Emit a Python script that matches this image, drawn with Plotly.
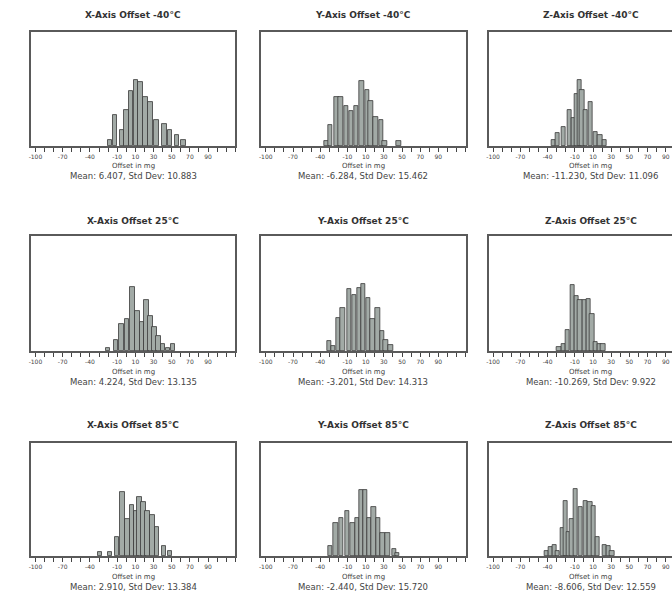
import plotly.graph_objects as go

# ---------------- data ----------------
titles = [
    "X-Axis Offset -40°C", "Y-Axis Offset -40°C", "Z-Axis Offset -40°C",
    "X-Axis Offset 25°C", "Y-Axis Offset 25°C", "Z-Axis Offset 25°C",
    "X-Axis Offset 85°C", "Y-Axis Offset 85°C", "Z-Axis Offset 85°C",
]
stats = [
    "Mean: 6.407, Std Dev: 10.883", "Mean: -6.284, Std Dev: 15.462", "Mean: -11.230, Std Dev: 11.096",
    "Mean: 4.224, Std Dev: 13.135", "Mean: -3.201, Std Dev: 14.313", "Mean: -10.269, Std Dev: 9.922",
    "Mean: 2.910, Std Dev: 13.384", "Mean: -2.440, Std Dev: 15.720", "Mean: -8.606, Std Dev: 12.559",
]
x_label = "Offset in mg"
tick_values = list(range(-100, 121, 10))
tick_labels = {-100: "-100", -70: "-70", -40: "-40", -10: "-10", 10: "10",
               30: "30", 50: "50", 70: "70", 90: "90"}

x_m40_bins = [-18, -12.8, -5, 0, 5.1, 10.6, 15.7, 20.9, 26.7, 33, 42, 48, 56, 63]
x_m40_cnt = [1.0, 5.4, 2.8, 6.3, 9.6, 11.5, 11.2, 8.6, 7.7, 4.6, 3.8, 2.8, 1.9, 1.1]
y_m40_bins = [-33, -29, -22, -17.5, -11.3, -5.8, -0.4, 5.5, 11.4, 15.7, 20.9, 27, 31, 46.5]
y_m40_cnt = [0.9, 3.6, 8.6, 8.6, 7.0, 6.1, 7.0, 11.4, 9.8, 7.9, 5.1, 4.6, 0.9, 0.9]
z_m40_bins = [-33.6, -29, -22.3, -16, -11.3, -7.7, -5.1, -2.2, 1.8, 7.3, 12.8, 17.6, 23]
z_m40_cnt = [1.1, 2.2, 3.3, 6.3, 4.9, 9.1, 11.5, 9.8, 6.3, 7.7, 2.5, 1.9, 1.1]

x_25_bins = [-20, -11.7, -5.5, 0.8, 6.6, 12.1, 17.2, 22, 26.4, 30.8, 35.5, 40.2, 46, 51.6]
x_25_cnt = [0.6, 1.9, 4.7, 5.6, 11.2, 7.0, 5.0, 8.8, 6.1, 4.1, 2.6, 1.2, 0.6, 1.2]
y_25_bins = [-30, -26, -20.5, -15.4, -8.4, -2.6, 3, 7.5, 12.5, 17.9, 23.4, 28.2, 32.2, 37.7]
y_25_cnt = [1.8, 0.8, 5.8, 7.5, 10.7, 9.8, 11.0, 11.6, 9.2, 5.6, 7.4, 3.4, 1.9, 1.1]
z_25_bins = [-27.4, -22.7, -18, -12.8, -8.4, -4.4, 0.4, 5.1, 8.8, 12.8, 17.2, 20.9]
z_25_cnt = [0.7, 1.3, 3.6, 11.4, 9.5, 8.9, 8.9, 9.0, 6.5, 1.6, 1.3, 1.2]

x_85_bins = [-29, -18.3, -10.6, -4.4, 1.1, 6.2, 11, 14.6, 18.7, 23.4, 28.6, 34, 41.3, 47.9]
x_85_cnt = [0.7, 0.7, 3.3, 11.4, 6.6, 9.1, 8.0, 10.4, 9.6, 8.0, 7.3, 5.1, 1.8, 0.9]
y_85_bins = [-29.3, -23, -17.2, -10.3, -4.4, 0.4, 5, 9.5, 14, 19, 23.8, 28.9, 34.4, 41.3, 44.6]
y_85_cnt = [1.8, 5.8, 6.8, 7.9, 5.8, 6.8, 11.7, 11.7, 6.8, 8.6, 6.7, 4.0, 4.0, 1.2, 0.6]
z_85_bins = [-41, -36.6, -32.6, -28.9, -23, -20.1, -16.9, -13.2, -9.2, -3.7, 1.8, 6.6, 10.6, 15, 22.7, 27, 30.8]
z_85_cnt = [0.8, 1.6, 2.0, 0.8, 4.9, 9.7, 4.2, 6.6, 11.9, 8.7, 9.7, 9.5, 8.8, 3.3, 2.0, 1.8, 0.8]

panels = [
    (x_m40_bins, x_m40_cnt), (y_m40_bins, y_m40_cnt), (z_m40_bins, z_m40_cnt),
    (x_25_bins, x_25_cnt), (y_25_bins, y_25_cnt), (z_25_bins, z_25_cnt),
    (x_85_bins, x_85_cnt), (y_85_bins, y_85_cnt), (z_85_bins, z_85_cnt),
]

# ---------------- layout ----------------
W, H = 672, 598
col_px = [(29, 234), (260, 465), (488, 672)]
row_px = [(32, 146), (236, 351), (443, 556)]
title_y = [15, 221, 425]
xlab_y = [166, 372, 577]
stat_y = [176, 382, 587]
px_per_unit = 205 / 225.0
x0 = -105
FONT = "DejaVu Sans"

fig = go.Figure()
annotations = []
layout_axes = {}

for i, (bins, cnt) in enumerate(panels):
    r, c = divmod(i, 3)
    idx = i + 1
    xa = "x" if idx == 1 else f"x{idx}"
    ya = "y" if idx == 1 else f"y{idx}"
    fig.add_trace(go.Bar(
        x=bins, y=cnt, width=4.8, xaxis=xa, yaxis=ya,
        marker=dict(color="#a2aaa6", line=dict(color="#3a3a3a", width=0.8)),
        showlegend=False, hoverinfo="skip",
    ))
    l, rr = col_px[c]
    t, b = row_px[r]
    xmax = x0 + (rr - l) / px_per_unit
    xkey = "xaxis" if idx == 1 else f"xaxis{idx}"
    ykey = "yaxis" if idx == 1 else f"yaxis{idx}"
    layout_axes[xkey] = dict(
        domain=[l / W, rr / W], range=[x0, xmax], anchor=ya,
        tickmode="array", tickvals=tick_values,
        ticktext=[tick_labels.get(v, "") for v in tick_values],
        ticks="outside", ticklen=4, tickwidth=1, tickcolor="#444",
        tickfont=dict(family=FONT, size=6, color="#444"),
        showline=True, linecolor="#5a5a5a", linewidth=1.5, mirror=True,
        showgrid=False, zeroline=False, fixedrange=True,
    )
    layout_axes[ykey] = dict(
        domain=[1 - b / H, 1 - t / H], range=[0, 20], anchor=xa,
        showticklabels=False, ticks="",
        showline=True, linecolor="#5a5a5a", linewidth=1.5, mirror=(c != 2),
        showgrid=False, zeroline=False, fixedrange=True,
    )
    cx = (l + (l + 205)) / 2 / W
    annotations.append(dict(x=cx, y=1 - title_y[r] / H, xref="paper", yref="paper",
                            text=f"<b>{titles[i]}</b>", showarrow=False,
                            font=dict(family=FONT, size=9, color="#333"),
                            xanchor="center", yanchor="middle"))
    annotations.append(dict(x=cx, y=1 - xlab_y[r] / H, xref="paper", yref="paper",
                            text=x_label, showarrow=False,
                            font=dict(family=FONT, size=7, color="#444"),
                            xanchor="center", yanchor="middle"))
    annotations.append(dict(x=cx, y=1 - stat_y[r] / H, xref="paper", yref="paper",
                            text=stats[i], showarrow=False,
                            font=dict(family=FONT, size=8.5, color="#444"),
                            xanchor="center", yanchor="middle"))

fig.update_layout(
    width=W, height=H, margin=dict(l=0, r=0, t=0, b=0),
    paper_bgcolor="white", plot_bgcolor="white",
    bargap=0, annotations=annotations, **layout_axes,
)

fig.write_html(
    "out.html",
    config={"displayModeBar": False},
    post_script="document.body.style.margin='0';document.body.style.overflow='hidden';",
)
